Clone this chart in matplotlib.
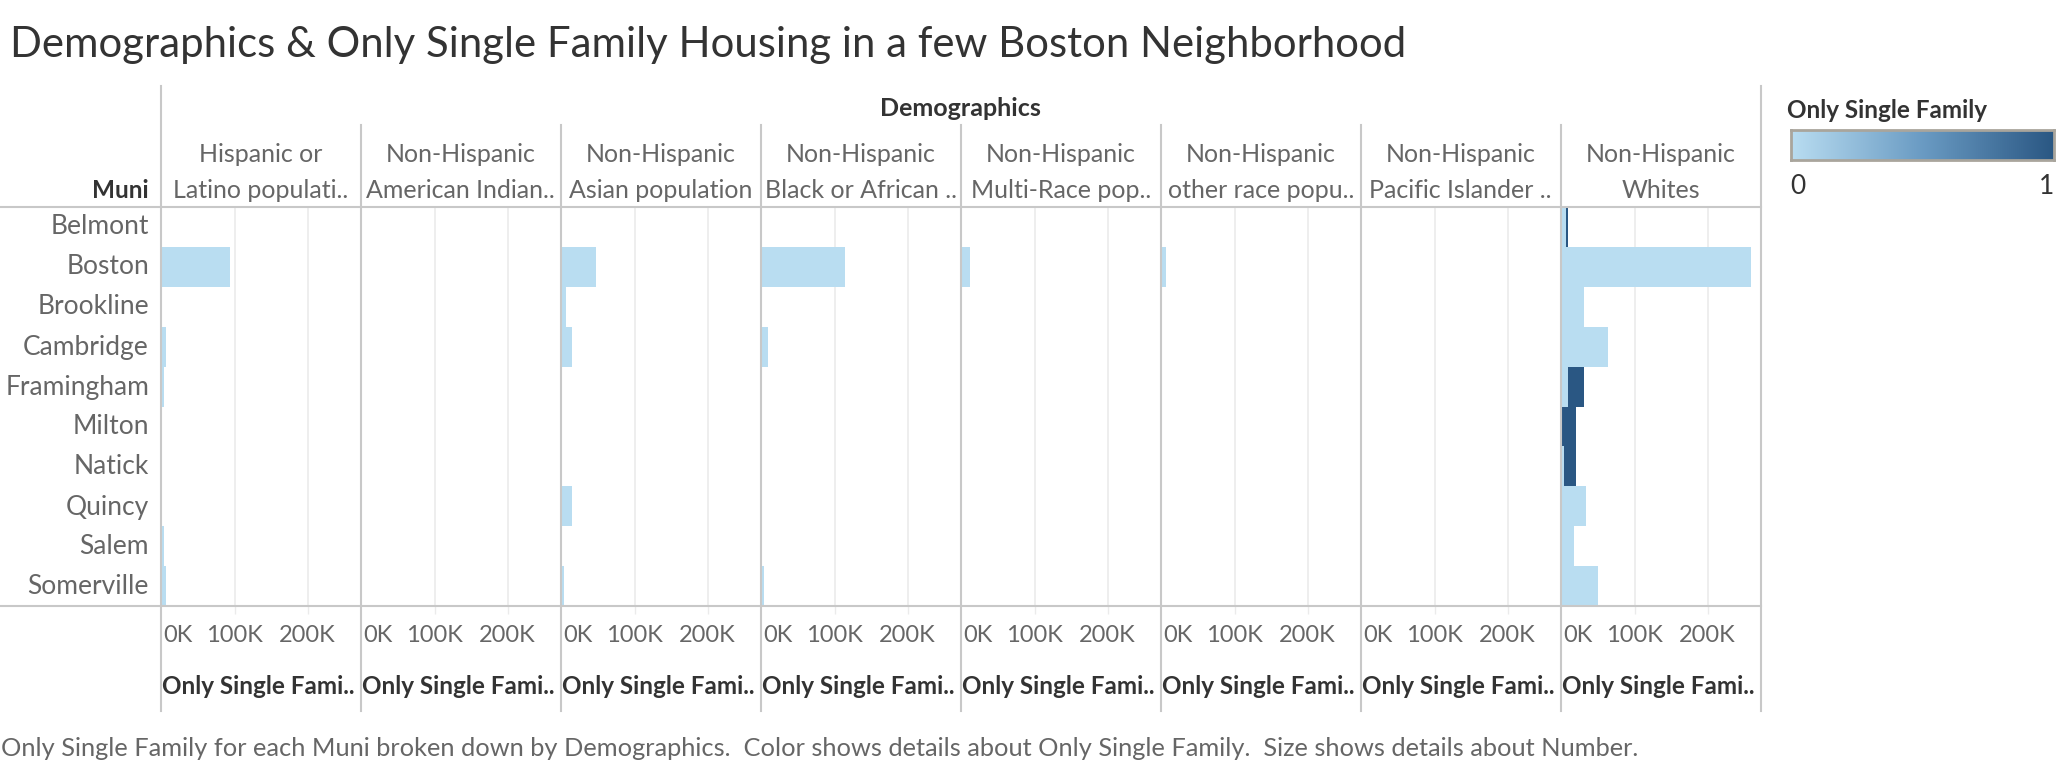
import numpy as np
import matplotlib.pyplot as plt
from matplotlib.colors import LinearSegmentedColormap
from matplotlib.lines import Line2D
from matplotlib.transforms import blended_transform_factory

# Munis (rows) and demographic columns
munis = ['Belmont', 'Boston', 'Brookline', 'Cambridge', 'Framingham',
         'Milton', 'Natick', 'Quincy', 'Salem', 'Somerville']
headers = [('Hispanic or', 'Latino populati..'),
           ('Non-Hispanic', 'American Indian..'),
           ('Non-Hispanic', 'Asian population'),
           ('Non-Hispanic', 'Black or African ..'),
           ('Non-Hispanic', 'Multi-Race pop..'),
           ('Non-Hispanic', 'other race popu..'),
           ('Non-Hispanic', 'Pacific Islander ..'),
           ('Non-Hispanic', 'Whites')]
tick_vals = [0, 100, 200]
tick_labels = ['0K', '100K', '200K']

# Number (thousands) where Only Single Family = 0
hispanic = [0.8, 93.6, 0.8, 6.0, 3.2, 0.8, 0.8, 0.8, 3.2, 6.0]
amer_indian = [0.6, 0.6, 0.6, 0.6, 0.6, 0.6, 0.6, 0.6, 0.6, 0.6]
asian = [0.8, 47.0, 6.0, 14.0, 0.8, 0.8, 0.8, 14.0, 0.8, 3.2]
black = [0.8, 114.0, 0.8, 8.7, 0.8, 0.8, 0.8, 0.8, 0.8, 3.2]
multi_race = [0.8, 11.4, 0.8, 0.8, 0.8, 0.8, 0.8, 0.8, 0.8, 0.8]
other_race = [0.8, 6.0, 0.8, 0.8, 0.8, 0.8, 0.8, 0.8, 0.8, 0.8]
pacific = [0.6, 0.6, 0.6, 0.6, 0.6, 0.6, 0.6, 0.6, 0.6, 0.6]
whites = [6.0, 259.0, 30.6, 63.5, 8.7, 0.5, 3.2, 33.3, 16.9, 49.8]
# Number (thousands) where Only Single Family = 1 (only whites have any)
whites_single = [2.7, 0, 0, 0, 21.9, 19.2, 16.4, 0, 0, 0]

light_cols = [hispanic, amer_indian, asian, black, multi_race, other_race, pacific, whites]
dark_cols = [[0] * 10] * 7 + [whites_single]

W, H = 2064, 768


def fx(x):
    return x / W


def fy(y):
    return 1 - y / H


plt.rcParams['font.family'] = ['Lato', 'DejaVu Sans']
fig = plt.figure(figsize=(W / 100, H / 100), dpi=100)

cmap = LinearSegmentedColormap.from_list('tab_blue', ['#b9ddf1', '#6a9bc3', '#2a5783'])
line_c = '#c8c8c8'
grid_c = '#ebebeb'

x0 = 160.7
pw = 200
row_top, row_bot = 207, 606
y = np.arange(len(munis))

for i in range(len(headers)):
    left = x0 + i * pw
    ax = fig.add_axes([fx(left + 1), fy(row_bot), (pw - 1.5) / W, (row_bot - row_top) / H])
    ax.set_xlim(0, 272)
    ax.set_ylim(len(munis) - 0.5, -0.5)
    for g in tick_vals[1:]:
        ax.axvline(g, color=grid_c, lw=1.2, zorder=0)
    ax.barh(y, light_cols[i], height=1.0, color=cmap(0.0), lw=0)
    ax.barh(y, dark_cols[i], left=light_cols[i], height=1.0, color=cmap(1.0), lw=0)
    ax.set_xticks(tick_vals[1:])
    ax.set_yticks([])
    ax.tick_params(axis='x', length=6, width=1, color=grid_c, labelbottom=False)
    for s in ax.spines.values():
        s.set_visible(False)
    tr = blended_transform_factory(ax.transData, fig.transFigure)
    for v, lab in zip(tick_vals, tick_labels):
        ax.text(v + (1.5 if v == 0 else 0), fy(636), lab, transform=tr,
                ha='left' if v == 0 else 'center', va='center',
                fontsize=17, color='#666666')
    fig.text(fx(left + 1), fy(686), 'Only Single Fami..', ha='left', va='center',
             fontsize=17.5, fontweight='bold', color='#333333')
    cx = left + pw / 2
    fig.text(fx(cx), fy(155), headers[i][0], ha='center', va='center',
             fontsize=18, color='#666666')
    fig.text(fx(cx), fy(190), headers[i][1], ha='center', va='center',
             fontsize=18, color='#666666')

# row labels
for j, m in enumerate(munis):
    fig.text(fx(149), fy(row_top + 20 + 40 * j), m, ha='right', va='center',
             fontsize=19, color='#666666')
fig.text(fx(149), fy(190), 'Muni', ha='right', va='center',
         fontsize=17.5, fontweight='bold', color='#333333')
fig.text(fx(x0 + 4 * pw), fy(108), 'Demographics', ha='center', va='center',
         fontsize=18, fontweight='bold', color='#333333')

# separators
for i in range(len(headers) + 1):
    xl = x0 + i * pw
    top = 86 if i in (0, len(headers)) else 125
    fig.add_artist(Line2D([fx(xl), fx(xl)], [fy(top), fy(711)], color=line_c, lw=1.5))
for yl in (row_top, row_bot):
    fig.add_artist(Line2D([0, fx(x0 + 8 * pw)], [fy(yl), fy(yl)], color=line_c, lw=1.5))

# title and caption
fig.text(fx(10), fy(57), 'Demographics & Only Single Family Housing in a few Boston Neighborhood',
         ha='left', va='baseline', fontsize=30.2, color='#333333')
fig.text(fx(1), fy(748), 'Only Single Family for each Muni broken down by Demographics.  '
         'Color shows details about Only Single Family.  Size shows details about Number.',
         ha='left', va='center', fontsize=18.3, color='#666666')

# colour legend
fig.text(fx(1787), fy(111), 'Only Single Family', ha='left', va='center',
         fontsize=17.5, fontweight='bold', color='#333333')
cax = fig.add_axes([fx(1791), fy(160), 263 / W, 30 / H])
cax.imshow(np.linspace(0, 1, 256)[None, :], aspect='auto', cmap=cmap)
cax.set_xticks([])
cax.set_yticks([])
for s in cax.spines.values():
    s.set_color('#a9a59c')
    s.set_linewidth(2)
fig.text(fx(1798), fy(186), '0', ha='center', va='center', fontsize=19, color='#333333')
fig.text(fx(2047), fy(186), '1', ha='center', va='center', fontsize=19, color='#333333')

fig.savefig('out.png', dpi=100)
